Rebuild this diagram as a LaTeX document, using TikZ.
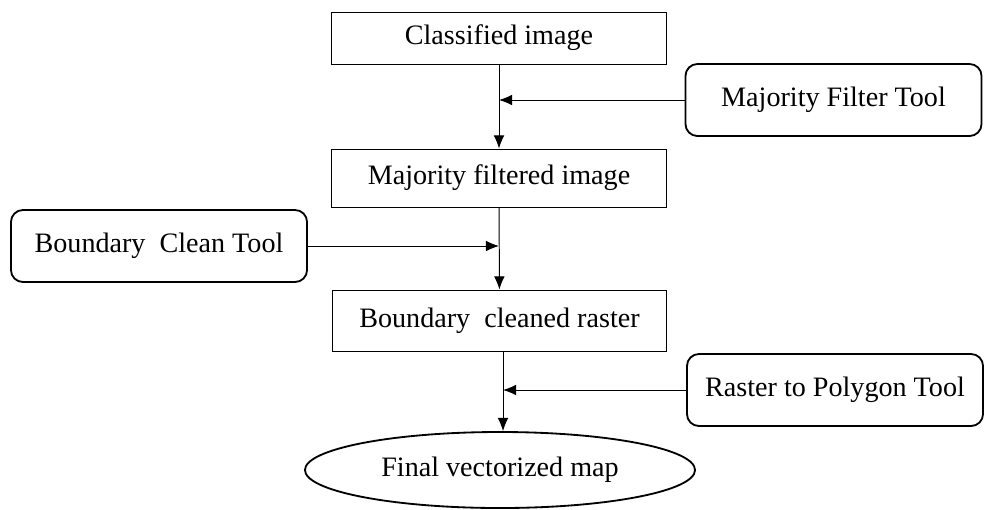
\documentclass[tikz,border=0pt]{standalone}
\usepackage{fontspec}
\setmainfont{Liberation Serif}
\usetikzlibrary{arrows.meta,shapes.geometric}

\begin{document}
\begin{tikzpicture}[x=0.025cm,y=-0.025cm,
        font=\fontsize{20}{24}\selectfont,
        box/.style={draw,line width=0.7pt,minimum width=8.35cm},
        tool/.style={draw,line width=1.3pt,rounded corners=0.3cm,minimum width=7.4cm,minimum height=1.8cm},
        final/.style={draw,ellipse,line width=1.3pt,inner sep=0pt,minimum width=9.75cm,minimum height=1.9cm},
        link/.style={line width=0.7pt,-{Latex[length=0.33cm,width=0.27cm]}}]
        \useasboundingbox (0,0) rectangle (991,509);
        \node[box,minimum height=1.3cm](ci)   at (499,38)    {Classified image};
        \node[box,minimum height=1.45cm](mf)  at (499,178)   {Majority filtered image};
        \node[box,minimum height=1.525cm](bc) at (499.5,320.5) {Boundary\ \ cleaned raster};
        \node[final](fv) at (500,470) {Final vectorized map};
        \node[tool](mt) at (833.5,100) {Majority Filter Tool};
        \node[tool](bt) at (159,246)   {Boundary\ \ Clean Tool};
        \node[tool](rt) at (835,390)   {Raster to Polygon Tool};
        \coordinate (p1) at (499,100);
        \coordinate (p2) at (499,246);
        \coordinate (p3) at (503,390);
        \draw[link] (ci) -- (mf);
        \draw[link] (mf) -- (bc);
        \draw[link] (bc.south -| p3) -- (p3 |- fv.north);
        \draw[link] (mt) -- (p1);
        \draw[link] (bt) -- (p2);
        \draw[link] (rt) -- (p3);
\end{tikzpicture}
\end{document}
